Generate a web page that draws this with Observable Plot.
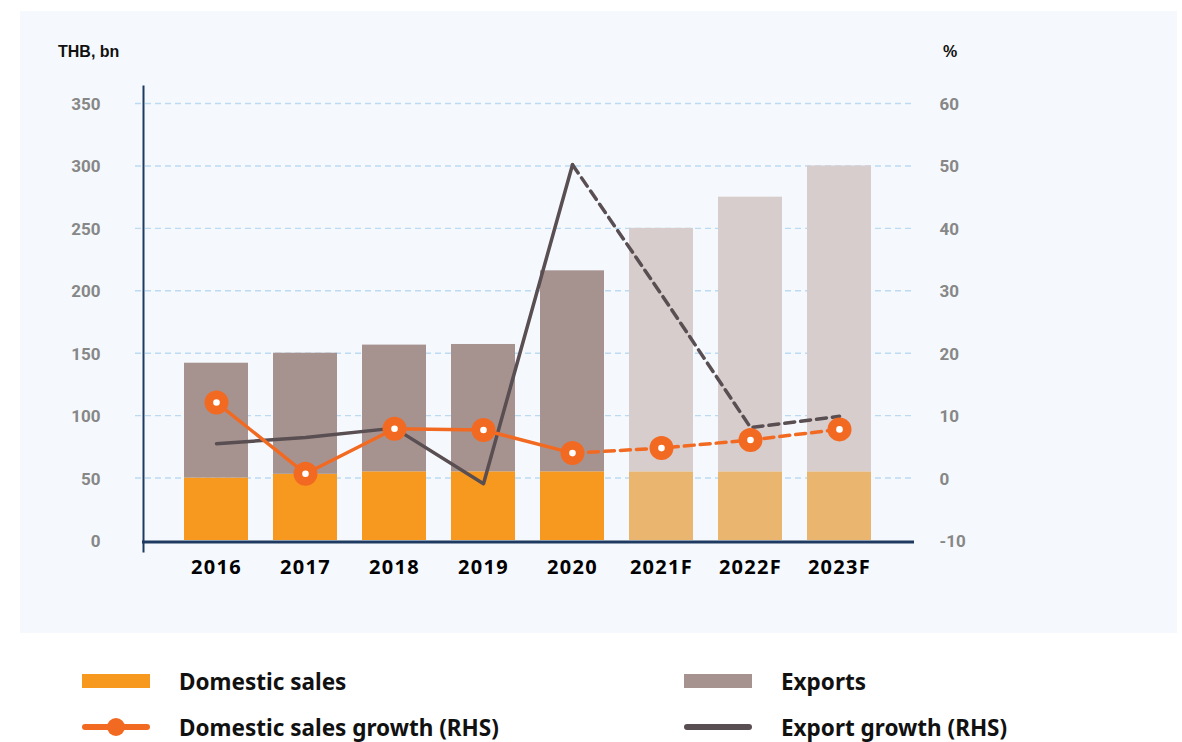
<!DOCTYPE html>
<html>
<head>
<meta charset="utf-8">
<script src="https://cdn.jsdelivr.net/npm/d3@7"></script>
<script src="https://cdn.jsdelivr.net/npm/@observablehq/plot@0.6"></script>
<style>
  html, body { margin: 0; padding: 0; background: #ffffff; width: 1182px; height: 742px; overflow: hidden; }
  #panel { position: absolute; left: 20px; top: 11px; width: 1157px; height: 622px; background: #f5f9fd; }
  #chart { position: absolute; left: 0; top: 0; }
  .title { position: absolute; font-family: "Liberation Sans", Arial, sans-serif; font-weight: 700; font-size: 16px; color: #111; }
  .legend-item { position: absolute; display: flex; align-items: center; font-family: "Noto Sans", sans-serif; font-weight: 700; font-size: 22.5px; color: #111; white-space: nowrap; }
  .legend-item svg { margin-right: 29px; }
  g[aria-label="x-axis tick label"] text { letter-spacing: 1.3px; }
</style>
</head>
<body>
<div id="panel"></div>
<div id="chart"></div>
<div class="title" style="left:58px; top:43px;">THB, bn</div>
<div class="title" style="left:943px; top:43px;">%</div>
<div id="legend"></div>
<script>
// ---- data ----
const years = ["2016", "2017", "2018", "2019", "2020", "2021F", "2022F", "2023F"];
const domesticSales = [50, 53, 55, 55, 55, 55, 55, 55];
const exportsSales = [92, 97, 101.5, 102, 161, 195, 220, 245];
const domesticGrowth = [12.1, 0.7, 7.9, 7.7, 4.0, 4.8, 6.1, 7.8];
const exportGrowth = [5.5, 6.5, 8.0, -0.9, 50.2, 29.4, 8.1, 9.9];
const isForecast = [false, false, false, false, false, true, true, true];
const leftTicks = [0, 50, 100, 150, 200, 250, 300, 350];
const gridTicks = [50, 100, 150, 200, 250, 300, 350];
const rightTicks = [-10, 0, 10, 20, 30, 40, 50, 60];

// ---- colours ----
const C = {
  dom: "#f7991f", domF: "#e9b56f",
  exp: "#a69390", expF: "#d7cdcd",
  domLine: "#f26a22", expLine: "#594e51",
  grid: "#bcdaf2", axis: "#1f3a60", tick: "#878787"
};

// right axis (%) maps onto left axis (THB bn): -10..60 -> 0..350
const toLeft = r => (r + 10) * 5;
const toRight = l => l / 5 - 10;

const bars = [];
years.forEach((y, i) => {
  bars.push({year: y, series: "Domestic sales", value: domesticSales[i], color: isForecast[i] ? C.domF : C.dom});
  bars.push({year: y, series: "Exports", value: exportsSales[i], color: isForecast[i] ? C.expF : C.exp});
});
const domG = years.map((y, i) => ({year: y, g: domesticGrowth[i], f: isForecast[i]}));
const expG = years.map((y, i) => ({year: y, g: exportGrowth[i], f: isForecast[i]}));
const lastActual = isForecast.indexOf(true) - 1;
const solid = arr => arr.slice(0, lastActual + 1);
const dashed = arr => arr.slice(lastActual);

const chart = Plot.plot({
  width: 1182,
  height: 640,
  marginLeft: 143,
  marginRight: 270,
  marginTop: 103,
  marginBottom: 100,
  style: {background: "transparent", overflow: "visible"},
  x: {domain: years, paddingInner: 0.28, paddingOuter: 0.445, label: null},
  y: {domain: [0, 350], label: null},
  color: {type: "identity"},
  marks: [
    Plot.ruleY(gridTicks, {stroke: C.grid, strokeWidth: 1.4, strokeDasharray: "6,4", insetLeft: -8, insetRight: -3}),
    Plot.barY(bars, {x: "year", y: "value", fill: "color", insetLeft: 0, insetRight: 0}),
    Plot.line(solid(expG), {x: "year", y: d => toLeft(d.g), stroke: C.expLine, strokeWidth: 3.5}),
    Plot.line(dashed(expG), {x: "year", y: d => toLeft(d.g), stroke: C.expLine, strokeWidth: 3.5, strokeDasharray: "10,6"}),
    Plot.line(solid(domG), {x: "year", y: d => toLeft(d.g), stroke: C.domLine, strokeWidth: 3.5}),
    Plot.line(dashed(domG), {x: "year", y: d => toLeft(d.g), stroke: C.domLine, strokeWidth: 3.5, strokeDasharray: "10,6"}),
    Plot.dot(domG, {x: "year", y: d => toLeft(d.g), r: 12, fill: C.domLine, stroke: "none"}),
    Plot.dot(domG, {x: "year", y: d => toLeft(d.g), r: 3.3, fill: "white", stroke: "none"}),
    Plot.frame({anchor: "left", stroke: C.axis, strokeWidth: 2, insetTop: -17, insetBottom: -11}),
    Plot.frame({anchor: "bottom", stroke: C.axis, strokeWidth: 3, insetBottom: -1.5}),
    Plot.axisY(leftTicks, {anchor: "left", tickSize: 0, tickPadding: 43, dy: 1, fontSize: 17, fontWeight: 700, fill: C.tick, fontFamily: "Roboto", label: null}),
    Plot.axisY(rightTicks.map(toLeft), {anchor: "right", tickSize: 0, tickPadding: 27, dy: 1, tickFormat: d => String(toRight(d)), fontSize: 17, fontWeight: 700, fill: C.tick, fontFamily: "Roboto", label: null}),
    Plot.axisX({tickSize: 0, tickPadding: 19, fontSize: 20, fontWeight: 700, fill: "#000", fontFamily: "Noto Sans", label: null})
  ]
});
document.getElementById("chart").appendChild(chart);

// ---- legend ----
const legendItems = [
  {label: "Domestic sales", kind: "rect", color: C.dom, left: 82, top: 681},
  {label: "Exports", kind: "rect", color: C.exp, left: 684, top: 681},
  {label: "Domestic sales growth (RHS)", kind: "lineDot", color: C.domLine, left: 82, top: 727},
  {label: "Export growth (RHS)", kind: "line", color: C.expLine, left: 684, top: 727}
];
const legend = document.getElementById("legend");
legendItems.forEach(it => {
  const div = document.createElement("div");
  div.className = "legend-item";
  div.style.left = it.left + "px";
  div.style.top = (it.top - 16) + "px";
  div.style.height = "32px";
  let sw;
  if (it.kind === "rect") {
    sw = `<svg width="68" height="32"><rect x="0" y="9" width="68" height="14" fill="${it.color}"/></svg>`;
  } else if (it.kind === "lineDot") {
    sw = `<svg width="68" height="32"><line x1="3" x2="65" y1="16" y2="16" stroke="${it.color}" stroke-width="6" stroke-linecap="round"/><circle cx="34" cy="16" r="9" fill="${it.color}"/></svg>`;
  } else {
    sw = `<svg width="68" height="32"><line x1="3" x2="65" y1="16" y2="16" stroke="${it.color}" stroke-width="6" stroke-linecap="round"/></svg>`;
  }
  div.innerHTML = sw + `<span>${it.label}</span>`;
  legend.appendChild(div);
});
</script>
</body>
</html>
